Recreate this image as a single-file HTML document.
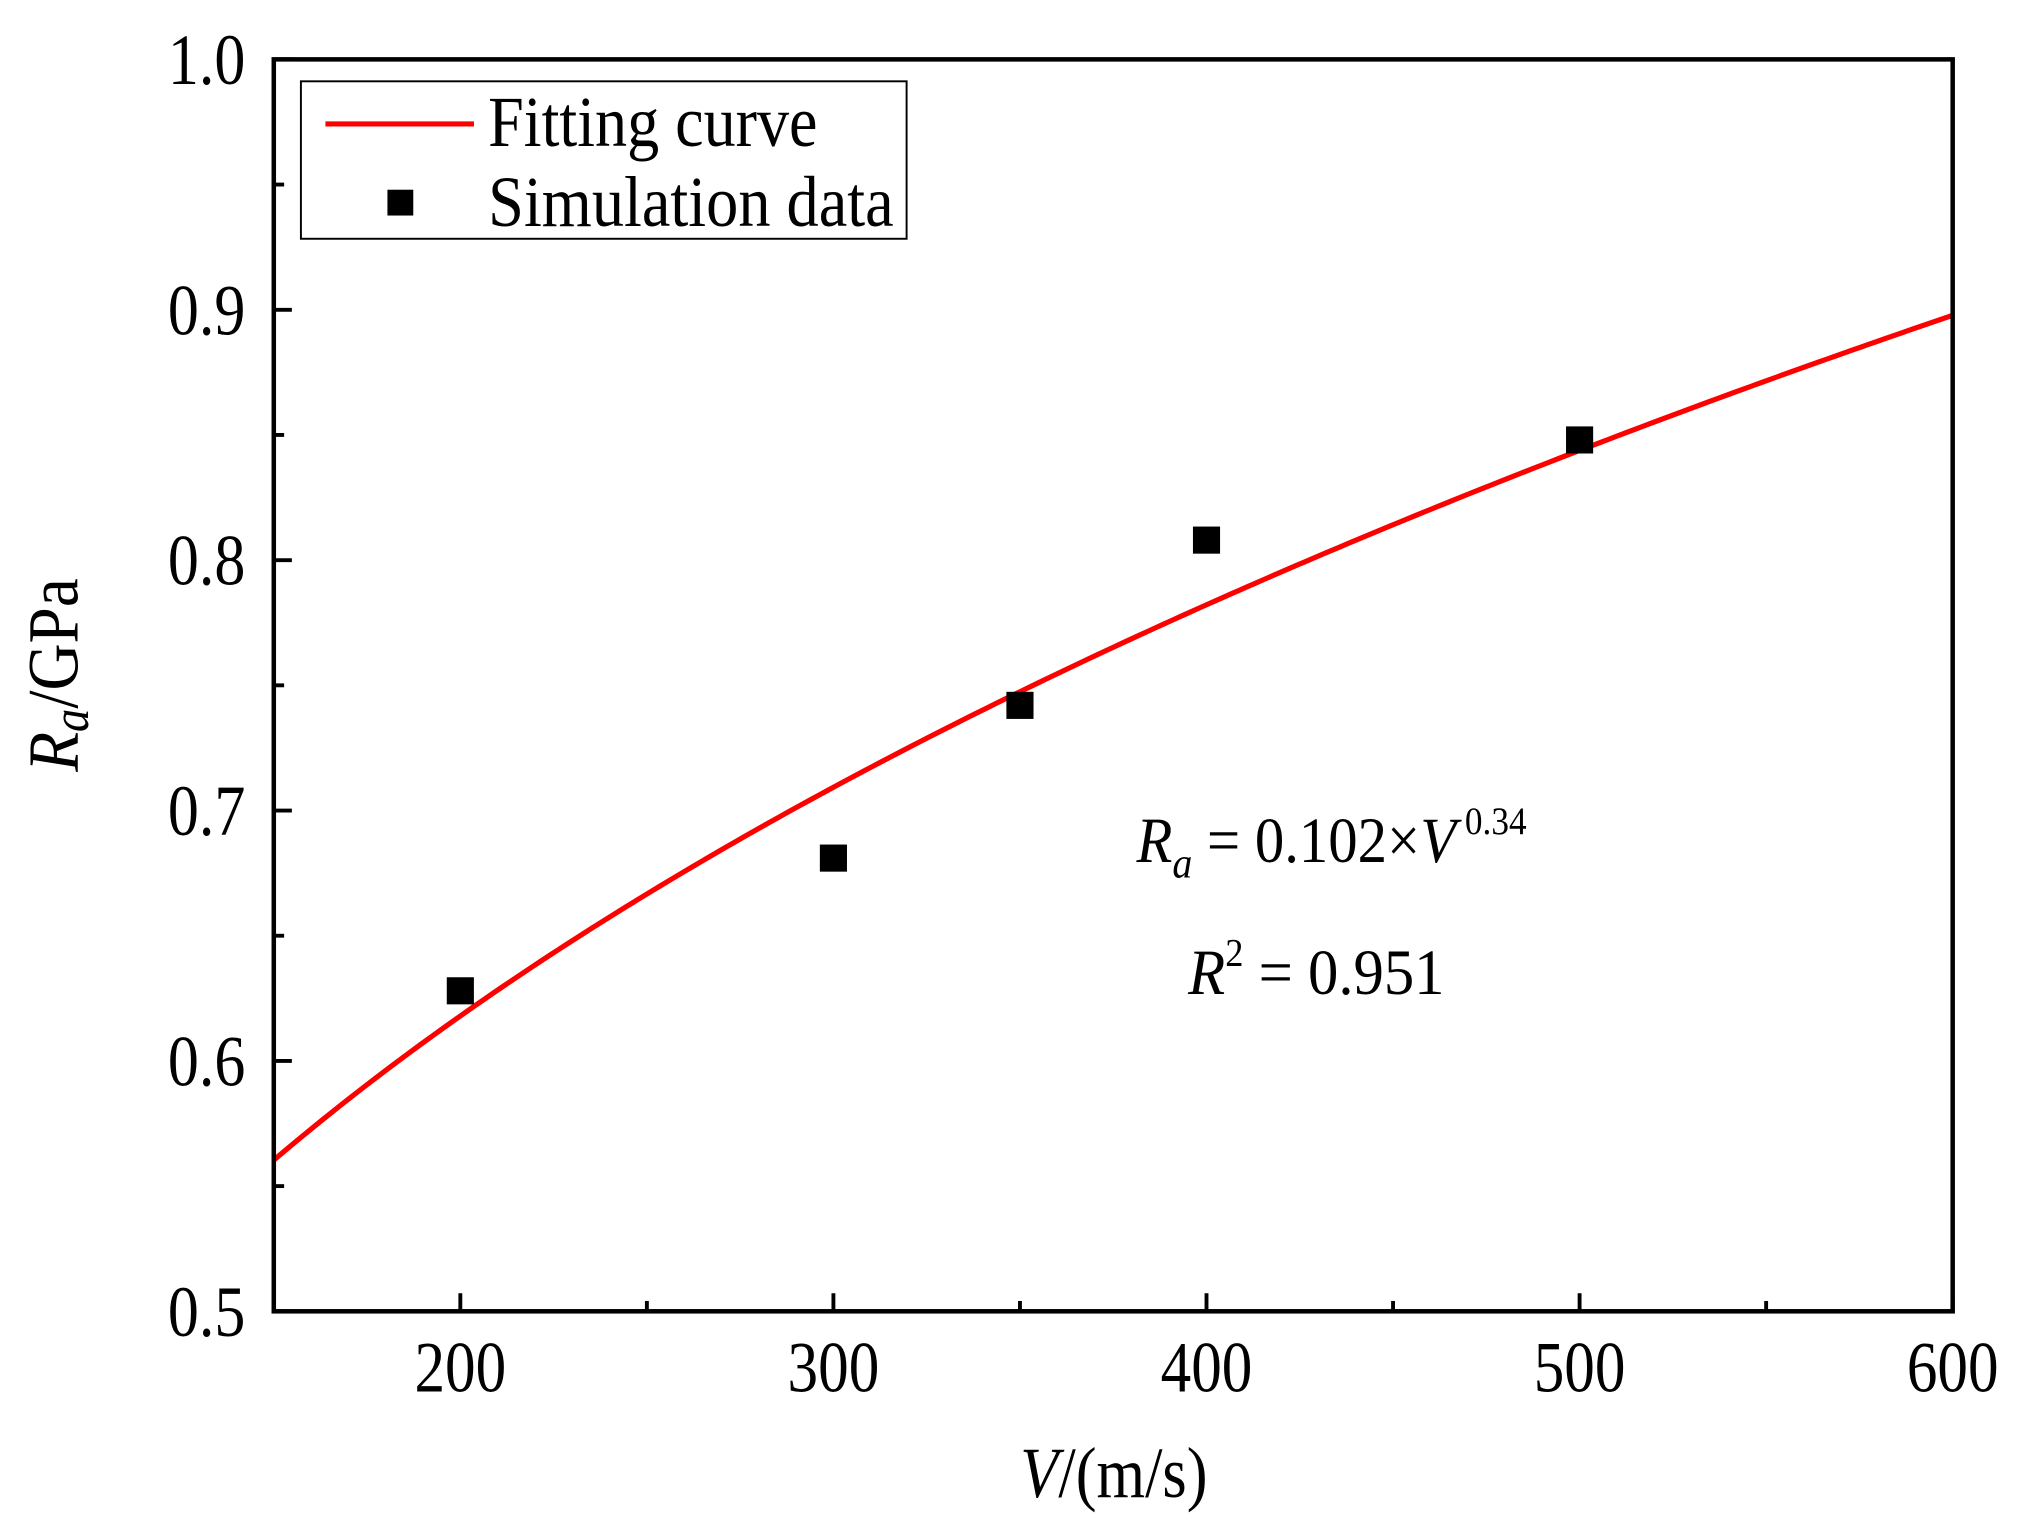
<!DOCTYPE html>
<html><head><meta charset="utf-8"><style>
html,body{margin:0;padding:0;background:#fff;}
svg{display:block;font-family:"Liberation Serif",serif;}
</style></head><body>
<svg id="chart" width="2025" height="1532" viewBox="0 0 1568 1187" preserveAspectRatio="none" xmlns="http://www.w3.org/2000/svg">
<g id="plot"></g>
</svg>
<script>
const categories = [200, 300, 350, 400, 500];
const simValues = [0.628, 0.681, 0.742, 0.808, 0.848];
const fitCoef = [0.102, 0.34];
const xTicks = [200, 300, 400, 500, 600];
const xMinor = [250, 350, 450, 550];
const yTicks = [0.5, 0.6, 0.7, 0.8, 0.9, 1.0];
const yTickLabels = ["0.5", "0.6", "0.7", "0.8", "0.9", "1.0"];
const yMinor = [0.55, 0.65, 0.75, 0.85, 0.95];

const L = 212, R = 1512, T = 46, B = 1016;
const xMin = 150, xMax = 600, yMin = 0.5, yMax = 1.0;
const xs = v => L + (v - xMin) / (xMax - xMin) * (R - L);
const ys = v => B - (v - yMin) / (yMax - yMin) * (B - T);
const NS = "http://www.w3.org/2000/svg";
const g = document.getElementById('plot');
function mk(tag, attrs, parent) {
  const e = document.createElementNS(NS, tag);
  for (const k in attrs) e.setAttribute(k, attrs[k]);
  (parent || g).appendChild(e);
  return e;
}

let d = "";
for (let i = 0; i <= 200; i++) {
  const v = xMin + (xMax - xMin) * i / 200;
  const r = fitCoef[0] * Math.pow(v, fitCoef[1]);
  d += (i ? "L" : "M") + xs(v).toFixed(2) + "," + ys(r).toFixed(2);
}
const curve = mk('path', {d: d, fill: 'none', stroke: '#ff0000', 'stroke-width': 4});



categories.forEach((c, i) => {
  const p = mk('rect', {x: xs(c) - 10.5, y: ys(simValues[i]) - 10.5, width: 21, height: 21, fill: '#000'});
  
  
});

const frame = mk('rect', {x: L, y: T, width: R - L, height: B - T, fill: 'none', stroke: '#000', 'stroke-width': 3.5});



xTicks.forEach(v => {
  const t = mk('line', {x1: xs(v), x2: xs(v), y1: B, y2: B - 14, stroke: '#000', 'stroke-width': 3});
  
  
  const lb = mk('text', {x: xs(v), y: B + 62, 'font-size': 56, 'text-anchor': 'middle', textLength: 71, lengthAdjust: 'spacingAndGlyphs'});
  lb.textContent = v;
  
  
});
xMinor.forEach(v => {
  const t = mk('line', {x1: xs(v), x2: xs(v), y1: B, y2: B - 8, stroke: '#000', 'stroke-width': 3});
  
  
});
yTicks.forEach((v, i) => {
  const t = mk('line', {x1: L, x2: L + 14, y1: ys(v), y2: ys(v), stroke: '#000', 'stroke-width': 3});
  
  
  const lb = mk('text', {x: 130, y: ys(v) + 19, 'font-size': 56, textLength: 60, lengthAdjust: 'spacingAndGlyphs'});
  lb.textContent = yTickLabels[i];
  
  
});
yMinor.forEach(v => {
  const t = mk('line', {x1: L, x2: L + 8, y1: ys(v), y2: ys(v), stroke: '#000', 'stroke-width': 3});
  
  
});
</script>
<script>
const svg = document.getElementById('chart');
svg.insertAdjacentHTML('beforeend', `
<g>
  <rect x="233" y="63" width="469" height="122" fill="#fff" stroke="#000" stroke-width="1.5"/>
  <line x1="252" x2="367" y1="96" y2="96" stroke="#ff0000" stroke-width="4"/>
  <text x="378" y="113" font-size="56" textLength="255" lengthAdjust="spacingAndGlyphs">Fitting curve</text>
  <rect x="300" y="147" width="20" height="20" fill="#000"/>
  <text x="378" y="175" font-size="56" textLength="314" lengthAdjust="spacingAndGlyphs">Simulation data</text>
</g>
<g transform="translate(880,0) scale(0.91,1)">
<text x="0" y="668" font-size="50"><tspan font-style="italic">R</tspan><tspan font-style="italic" font-size="34" dy="12">a</tspan><tspan dy="-12"> = 0.102×</tspan><tspan font-style="italic">V</tspan><tspan font-size="30" dy="-22"> 0.34</tspan></text>
</g>
<g transform="translate(920,0) scale(0.94,1)">
<text x="0" y="770" font-size="50"><tspan font-style="italic">R</tspan><tspan font-size="30" dy="-22">2</tspan><tspan dy="22"> = 0.951</tspan></text>
</g>
<text x="790" y="1160" font-size="56" textLength="145" lengthAdjust="spacingAndGlyphs"><tspan font-style="italic">V</tspan>/(m/s)</text>
<text transform="translate(60,598) rotate(-90)" font-size="56" textLength="150" lengthAdjust="spacingAndGlyphs"><tspan font-style="italic">R</tspan><tspan font-style="italic" font-size="40" dy="8">a</tspan><tspan dy="-8">/GPa</tspan></text>
`);
</script>
</body></html>
